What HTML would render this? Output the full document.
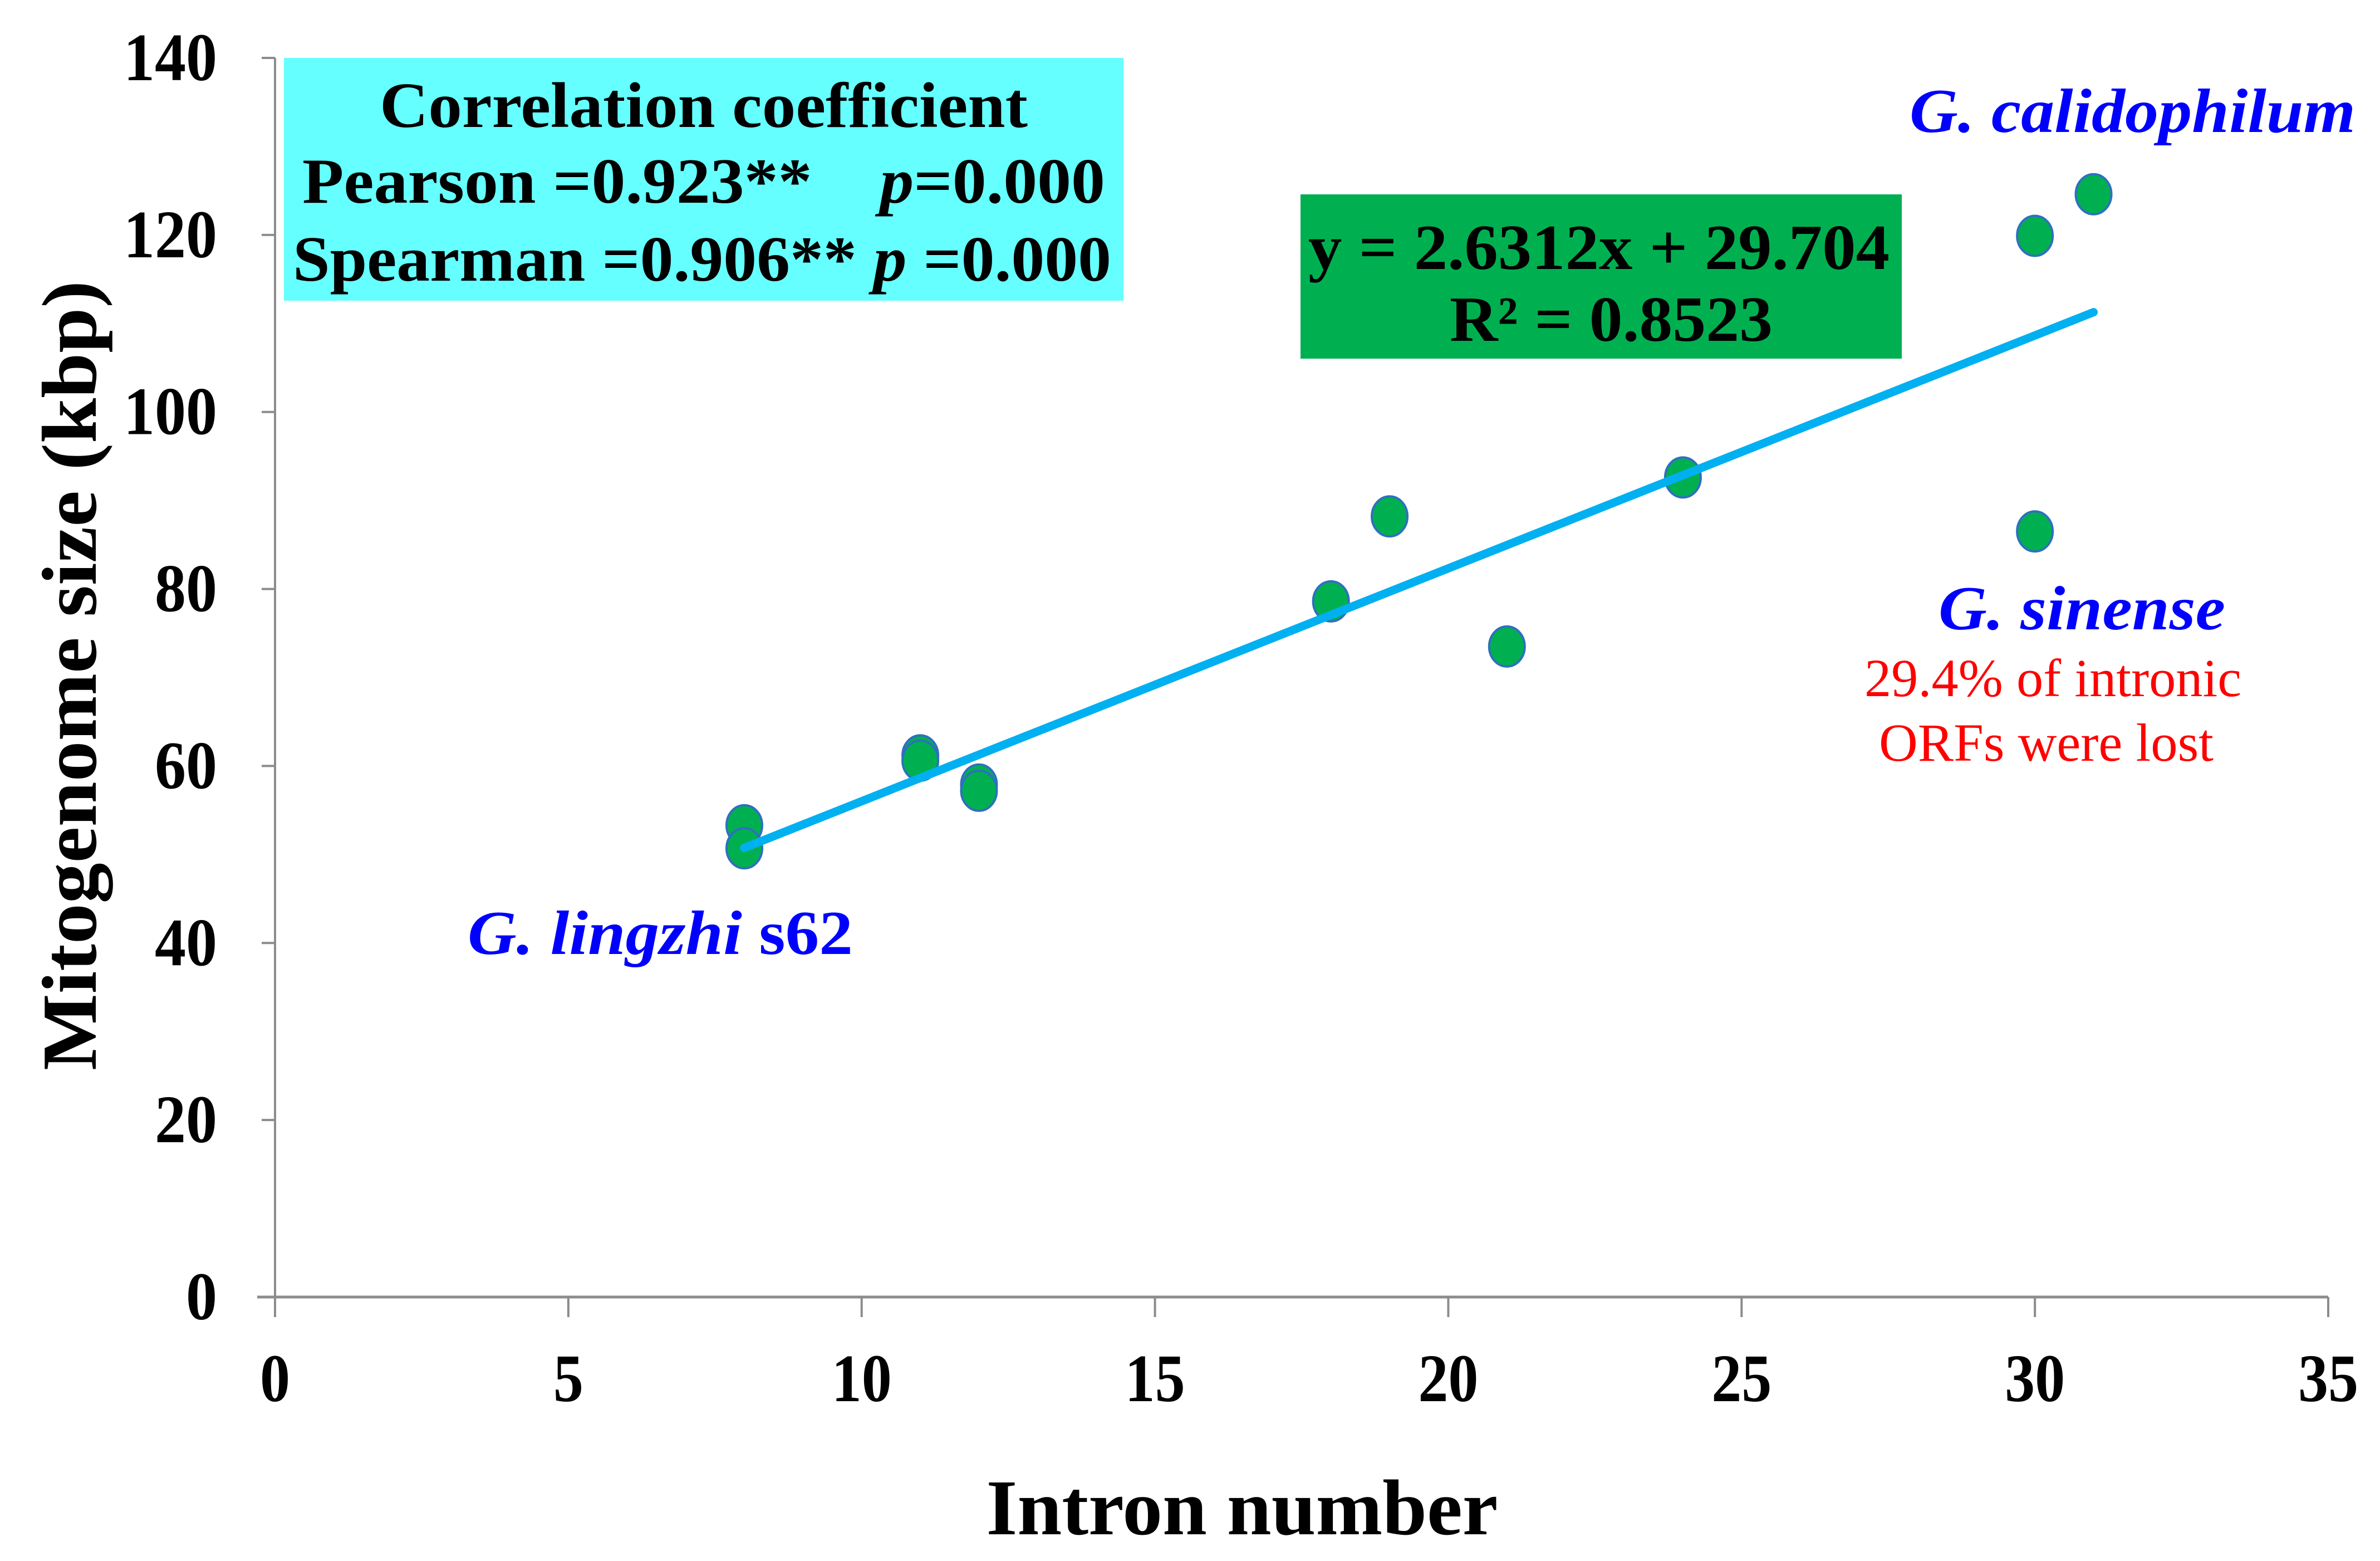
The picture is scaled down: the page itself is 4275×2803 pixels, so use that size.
<!DOCTYPE html>
<html><head><meta charset="utf-8"><style>
html,body{margin:0;padding:0;background:#fff;}
svg{display:block;font-family:"Liberation Serif",serif;}
</style></head><body>
<svg id="chart" width="4275" height="2803" viewBox="0 0 4275 2803" xmlns="http://www.w3.org/2000/svg">
<rect width="4275" height="2803" fill="#fff"/>
<g id="axes"></g>
<g id="trend"></g>
<g id="points"></g>
<rect x="510" y="104" width="1508" height="436" fill="#66ffff"/>
<text x="1264" y="228" text-anchor="middle" font-weight="bold" font-size="116" textLength="1164" lengthAdjust="spacingAndGlyphs">Correlation coefficient</text>
<text x="543" y="364" font-weight="bold" font-size="116" textLength="1442" lengthAdjust="spacingAndGlyphs" xml:space="preserve">Pearson =0.923**    <tspan font-style="italic">p</tspan>=0.000</text>
<text x="526" y="504" font-weight="bold" font-size="116" textLength="1470" lengthAdjust="spacingAndGlyphs">Spearman =0.906** <tspan font-style="italic">p</tspan> =0.000</text>
<rect x="2336" y="349" width="1080" height="295" fill="#00b050"/>
<text x="2350" y="483" font-weight="bold" font-size="116" textLength="1044" lengthAdjust="spacingAndGlyphs">y = 2.6312x + 29.704</text>
<text x="2604" y="612" font-weight="bold" font-size="116" textLength="580" lengthAdjust="spacingAndGlyphs">R² = 0.8523</text>
<text x="3430" y="237" fill="#0000ff" font-weight="bold" font-style="italic" font-size="112" textLength="801" lengthAdjust="spacingAndGlyphs">G. calidophilum</text>
<text x="3482" y="1130" fill="#0000ff" font-weight="bold" font-style="italic" font-size="112" textLength="515" lengthAdjust="spacingAndGlyphs">G. sinense</text>
<text x="3349" y="1250" fill="#ff0000" font-size="96" textLength="677" lengthAdjust="spacingAndGlyphs">29.4% of intronic</text>
<text x="3375" y="1366" fill="#ff0000" font-size="96" textLength="601" lengthAdjust="spacingAndGlyphs">ORFs were lost</text>
<text x="840" y="1713" fill="#0000ff" font-weight="bold" font-size="112" textLength="692" lengthAdjust="spacingAndGlyphs"><tspan font-style="italic">G. lingzhi</tspan> s62</text>
<text x="2231" y="2755" text-anchor="middle" font-weight="bold" font-size="142" textLength="919" lengthAdjust="spacingAndGlyphs">Intron number</text>
<text transform="translate(172,1213) rotate(-90)" text-anchor="middle" font-weight="bold" font-size="140" textLength="1418" lengthAdjust="spacingAndGlyphs">Mitogenome size (kbp)</text>
</svg>
<script>
const introns = [8, 8, 11, 11, 12, 12, 18, 19, 21, 24, 30, 31, 30];
const sizes = [53.3, 50.7, 61.2, 60.6, 57.9, 57.2, 78.6, 88.2, 73.5, 92.6, 119.9, 124.6, 86.5];
const xTicks = [0, 5, 10, 15, 20, 25, 30, 35];
const yTicks = [0, 20, 40, 60, 80, 100, 120, 140];
const slope = 2.6312;
const intercept = 29.704;
const trendRange = [8, 31];

const NS = 'http://www.w3.org/2000/svg';
const X0 = 494, X1 = 4182, Y0 = 2329, Y1 = 104;
const xs = v => X0 + (v - 0) / 35 * (X1 - X0);
const ys = v => Y0 - (v - 0) / 140 * (Y0 - Y1);
function mk(tag, attrs, parent) {
  const e = document.createElementNS(NS, tag);
  for (const k in attrs) e.setAttribute(k, attrs[k]);
  parent.appendChild(e);
  return e;
}
const axes = document.getElementById('axes');
let el;
el = mk('line', {x1: X0, y1: Y1, x2: X0, y2: Y0, stroke: '#8c8c8c', 'stroke-width': 4}, axes);


el = mk('line', {x1: 462, y1: Y0, x2: X1, y2: Y0, stroke: '#8c8c8c', 'stroke-width': 5}, axes);


yTicks.forEach(t => {
  const y = ys(t);
  const tk = mk('line', {x1: X0 - 24, y1: y, x2: X0, y2: y, stroke: '#8c8c8c', 'stroke-width': 4}, axes);
  
  
  const s = String(t);
  const lb = mk('text', {x: 390, y: y + 40, 'text-anchor': 'end', 'font-weight': 'bold', 'font-size': 122, textLength: 56 * s.length, lengthAdjust: 'spacingAndGlyphs'}, axes);
  lb.textContent = s;
  
  
});
xTicks.forEach(t => {
  const x = xs(t);
  const tk = mk('line', {x1: x, y1: Y0, x2: x, y2: Y0 + 36, stroke: '#8c8c8c', 'stroke-width': 4}, axes);
  
  
  const s = String(t);
  const lb = mk('text', {x: x, y: 2516, 'text-anchor': 'middle', 'font-weight': 'bold', 'font-size': 122, textLength: 54 * s.length, lengthAdjust: 'spacingAndGlyphs'}, axes);
  lb.textContent = s;
  
  
});
const trend = document.getElementById('trend');
el = mk('line', {x1: xs(trendRange[0]), y1: ys(slope * trendRange[0] + intercept), x2: xs(trendRange[1]), y2: ys(slope * trendRange[1] + intercept), stroke: '#00b0f0', 'stroke-width': 15, 'stroke-linecap': 'round'}, trend);


const pts = document.getElementById('points');
introns.forEach((v, i) => {
  const c = mk('ellipse', {cx: xs(v), cy: ys(sizes[i]), rx: 32, ry: 36, fill: '#00b050', stroke: '#2f6fc0', 'stroke-width': 4}, pts);
  
  
});
document.getElementById('points').parentNode.insertBefore(document.getElementById('trend'), null);
</script>
</body></html>
